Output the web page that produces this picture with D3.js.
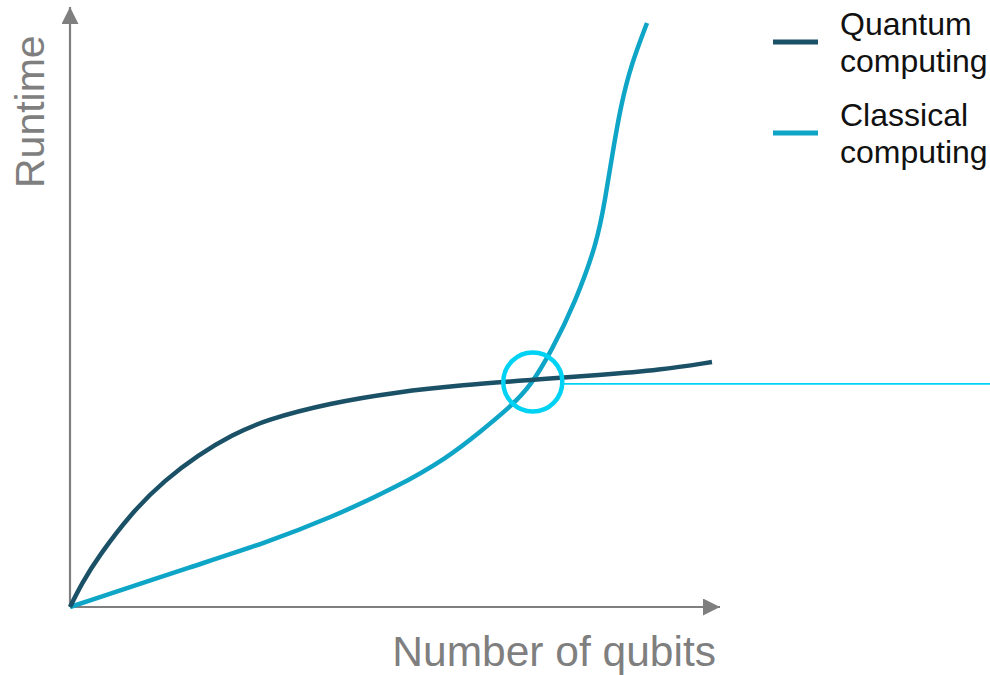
<!DOCTYPE html>
<html><head><meta charset="utf-8">
<script src="https://cdn.jsdelivr.net/npm/d3@7"></script>
<style>body{margin:0;background:#fff}svg{display:block}</style>
</head><body>
<svg id="c" width="990" height="675"></svg>
<script>
// Data (abstract units: qubits 0-100, runtime 0-100)
const quantumX = [0, 1.85, 4.31, 9.54, 14.62, 19.69, 24.92, 30, 40, 50.31, 60.46, 70.77, 81.54, 90.77, 98.77];
const quantumY = [0, 4, 8.33, 15.83, 21.17, 25.33, 28.67, 31.17, 34, 35.83, 37, 37.83, 38.67, 39.5, 40.83];
const classicalX = [0, 20, 30, 40, 50.31, 58, 63.08, 67.69, 70.77, 74.15, 77.69, 81.08, 82.31, 83.54, 84.77, 86.31, 88.77];
const classicalY = [0, 7.17, 10.67, 14.83, 20, 24.83, 29.17, 33.33, 36.67, 42.83, 50.67, 60.67, 67.83, 76.17, 83.67, 90.33, 97.33];
const crossover = {x: 71.2, y: 37.5};
const thresholdY = 37.2;
const seriesNames = ["Quantum computing", "Classical computing"];
const axisLabels = {x: "Number of qubits", y: "Runtime"};

const colors = {quantum: "#1b5167", classical: "#0ea5c7", highlight: "#00d2f4", axis: "#7f7f7f"};
const svg = d3.select("#c");
const x = d3.scaleLinear().domain([0, 100]).range([70, 720]);
const y = d3.scaleLinear().domain([0, 100]).range([607, 7]);
const font = "'Liberation Sans', Arial, sans-serif";

// axes
svg.append("defs").append("marker").attr("id","arr").attr("viewBox","0 0 10 10")
  .attr("refX",10).attr("refY",5).attr("markerWidth",17).attr("markerHeight",17)
  .attr("markerUnits","userSpaceOnUse").attr("orient","auto")
  .append("path").attr("d","M0,0L10,5L0,10Z").attr("fill",colors.axis);
svg.append("line").attr("x1",x(0)).attr("y1",y(0)).attr("x2",x(100)).attr("y2",y(0))
  .attr("stroke",colors.axis).attr("stroke-width",2.2).attr("marker-end","url(#arr)");
svg.append("line").attr("x1",x(0)).attr("y1",y(0)).attr("x2",x(0)).attr("y2",y(100))
  .attr("stroke",colors.axis).attr("stroke-width",2.2).attr("marker-end","url(#arr)");

svg.append("text").attr("x",716).attr("y",666).attr("text-anchor","end")
  .attr("font-family",font).attr("font-size",42.5).attr("fill",colors.axis).text(axisLabels.x);
svg.append("text").attr("transform","translate(44,188) rotate(-90)")
  .attr("font-family",font).attr("font-size",41).attr("fill",colors.axis).text(axisLabels.y);

// threshold line
svg.append("line").attr("x1",x(crossover.x)+31).attr("x2",990)
  .attr("y1",y(thresholdY)).attr("y2",y(thresholdY))
  .attr("stroke",colors.highlight).attr("stroke-width",1.8);

const line = d3.line().x(d=>x(d[0])).y(d=>y(d[1])).curve(d3.curveBasis);
svg.append("path").datum(d3.zip(classicalX, classicalY)).attr("d",line)
  .attr("fill","none").attr("stroke",colors.classical).attr("stroke-width",4.5);
svg.append("path").datum(d3.zip(quantumX, quantumY)).attr("d",line)
  .attr("fill","none").attr("stroke",colors.quantum).attr("stroke-width",4.5);

svg.append("circle").attr("cx",x(crossover.x)).attr("cy",y(crossover.y)).attr("r",29.5)
  .attr("fill","none").attr("stroke",colors.highlight).attr("stroke-width",4.5);

// legend
const leg = [{name:["Quantum","computing"], c:colors.quantum, y:42},
             {name:["Classical","computing"], c:colors.classical, y:133}];
leg.forEach(l=>{
  svg.append("line").attr("x1",773).attr("x2",818).attr("y1",l.y).attr("y2",l.y)
    .attr("stroke",l.c).attr("stroke-width",5);
  l.name.forEach((t,i)=>svg.append("text").attr("x",840).attr("y",l.y-7+i*37)
    .attr("font-family",font).attr("font-size",32).attr("fill","#111").text(t));
});
</script>
</body></html>
